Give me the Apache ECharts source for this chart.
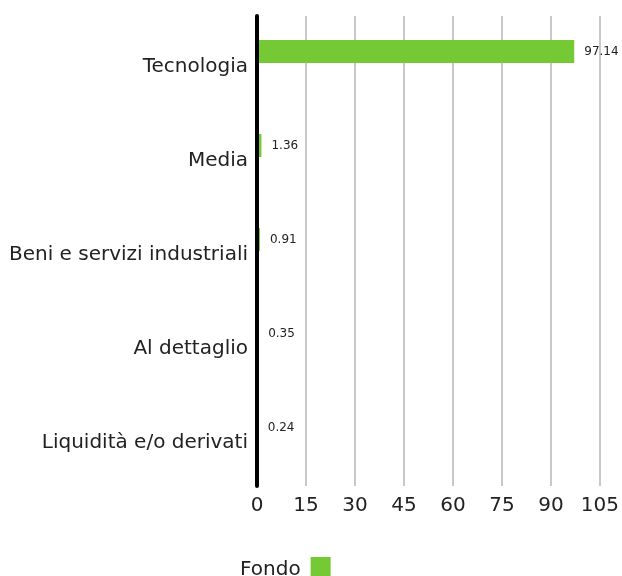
<!DOCTYPE html>
<html><head><meta charset="utf-8">
<script src="https://cdn.jsdelivr.net/npm/echarts@6/dist/echarts.min.js"></script>
<style>html,body{margin:0;padding:0;background:#fff}#c{width:622px;height:576px}</style>
</head><body><div id="c"></div>
<script>
var categories = ['Tecnologia', 'Media', 'Beni e servizi industriali', 'Al dettaglio', 'Liquidità e/o derivati'];
var fondo = [97.14, 1.36, 0.91, 0.35, 0.24];
var xTicks = [0, 15, 30, 45, 60, 75, 90, 105];
var FONT = '"DejaVu Sans", sans-serif';
var chart = echarts.init(document.getElementById('c'));
chart.setOption({
  animation: false,
  textStyle: {fontFamily: FONT},
  grid: {left: 257, right: 22, top: 16, bottom: 90, containLabel: false},
  legend: {
    data: ['Fondo'], bottom: -4, left: 240, align: 'right',
    itemWidth: 20, itemHeight: 20, itemGap: 10, padding: 0,
    icon: 'rect',
    formatter: '{a|{name}}',
    textStyle: {fontSize: 20, color: '#222', fontFamily: FONT,
      rich: {a: {fontSize: 20, color: '#222', fontFamily: FONT, padding: [6, 5, 0, 0]}}}
  },
  xAxis: {
    type: 'value', min: xTicks[0], max: xTicks[xTicks.length - 1], interval: 15,
    axisLine: {show: false}, axisTick: {show: false},
    axisLabel: {fontSize: 20, color: '#222', margin: 10, fontFamily: FONT},
    splitLine: {show: true, lineStyle: {color: '#c8c8c8', width: 2}}
  },
  yAxis: {
    type: 'category', data: categories, inverse: true, z: 5,
    axisLine: {show: true, lineStyle: {color: '#000', width: 4}},
    axisTick: {show: false},
    axisLabel: {
      margin: 9, formatter: '{a|{value}}',
      rich: {a: {fontSize: 20, color: '#222', fontFamily: FONT, padding: [8, 0, 0, 0]}}
    }
  },
  series: [
    {
      name: 'Fondo', type: 'bar', data: fondo, barWidth: 23, barGap: '0%',
      itemStyle: {color: '#74c934'},
      label: {show: true, position: 'right', distance: 10, fontSize: 12, color: '#222', fontFamily: FONT}
    },
    {
      name: 'Benchmark', type: 'bar', data: [null, null, null, null, null], barWidth: 23,
      itemStyle: {color: '#999'}
    }
  ]
});
</script></body></html>
